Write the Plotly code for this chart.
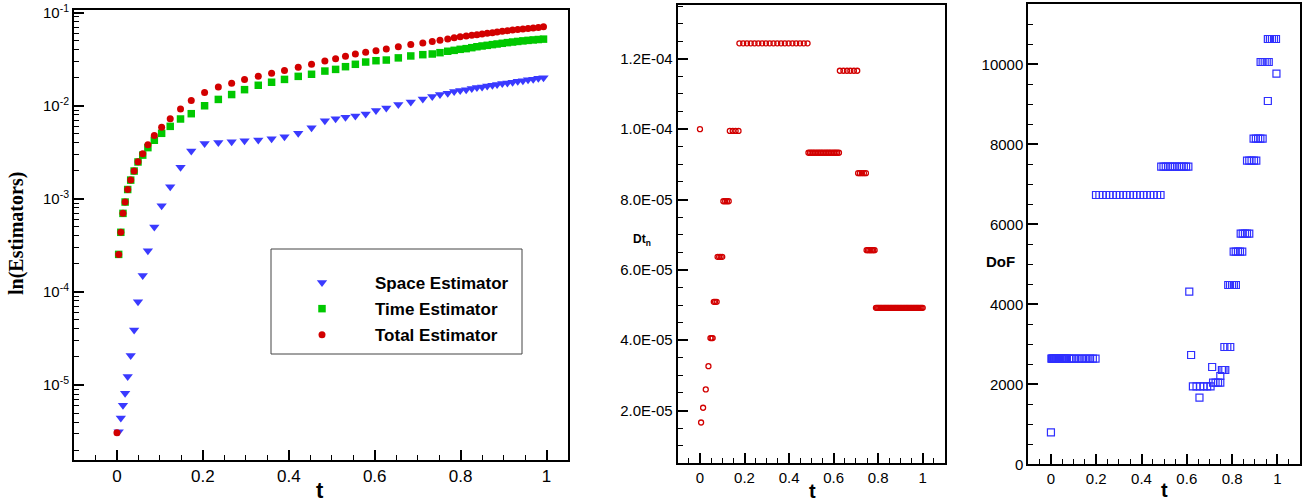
import plotly.graph_objects as go

W, H = 1303, 504

# ---------------- Left panel: estimators (log scale) ----------------
est_t = [0, 0.004, 0.009, 0.014, 0.019, 0.025, 0.032, 0.040, 0.049, 0.060,
         0.072, 0.087, 0.104, 0.124, 0.148, 0.173, 0.204, 0.236, 0.267, 0.297,
         0.329, 0.360, 0.390, 0.422, 0.453, 0.484, 0.509, 0.532, 0.555, 0.579,
         0.603, 0.627, 0.655, 0.684, 0.712, 0.734, 0.752, 0.770, 0.785, 0.799,
         0.813, 0.826, 0.838, 0.850, 0.862, 0.874, 0.885, 0.897, 0.909, 0.921,
         0.933, 0.945, 0.957, 0.969, 0.981, 0.993]

total_est = [3.07e-6, 2.53e-4, 4.37e-4, 6.98e-4, 9.24e-4, 1.26e-3, 1.59e-3, 1.99e-3, 2.51e-3, 3.06e-3,
             3.82e-3, 4.78e-3, 5.86e-3, 7.26e-3, 9.22e-3, 1.14e-2, 1.39e-2, 1.59e-2, 1.75e-2, 1.92e-2,
             2.07e-2, 2.23e-2, 2.40e-2, 2.59e-2, 2.79e-2, 3.03e-2, 3.21e-2, 3.40e-2, 3.60e-2, 3.75e-2,
             3.90e-2, 4.07e-2, 4.31e-2, 4.54e-2, 4.73e-2, 4.89e-2, 5.05e-2, 5.21e-2, 5.39e-2, 5.53e-2,
             5.62e-2, 5.71e-2, 5.81e-2, 5.90e-2, 6.00e-2, 6.10e-2, 6.20e-2, 6.31e-2, 6.41e-2, 6.50e-2,
             6.59e-2, 6.68e-2, 6.77e-2, 6.86e-2, 6.95e-2, 7.05e-2]

time_est = [None, 2.53e-4, 4.37e-4, 6.98e-4, 9.24e-4, 1.26e-3, 1.59e-3, 1.99e-3, 2.49e-3, 2.95e-3,
            3.55e-3, 4.26e-3, 5.06e-3, 6.01e-3, 7.21e-3, 8.22e-3, 1.00e-2, 1.17e-2, 1.32e-2, 1.49e-2,
            1.66e-2, 1.79e-2, 1.92e-2, 2.07e-2, 2.18e-2, 2.36e-2, 2.46e-2, 2.63e-2, 2.79e-2, 2.95e-2,
            3.05e-2, 3.10e-2, 3.27e-2, 3.43e-2, 3.54e-2, 3.60e-2, 3.72e-2, 3.85e-2, 3.94e-2, 4.04e-2,
            4.11e-2, 4.21e-2, 4.31e-2, 4.39e-2, 4.46e-2, 4.54e-2, 4.61e-2, 4.69e-2, 4.77e-2, 4.84e-2,
            4.91e-2, 4.98e-2, 5.04e-2, 5.10e-2, 5.15e-2, 5.20e-2]

space_est = [None, 3.15e-6, 4.42e-6, 6.04e-6, 8.13e-6, 1.23e-5, 2.08e-5, 3.90e-5, 7.86e-5, 1.50e-4,
             2.77e-4, 4.98e-4, 8.45e-4, 1.35e-3, 2.18e-3, 3.26e-3, 3.94e-3, 4.04e-3, 4.11e-3, 4.22e-3,
             4.28e-3, 4.43e-3, 4.65e-3, 5.06e-3, 5.82e-3, 6.92e-3, 7.27e-3, 7.51e-3, 7.77e-3, 8.15e-3,
             8.90e-3, 9.46e-3, 1.03e-2, 1.10e-2, 1.18e-2, 1.26e-2, 1.32e-2, 1.36e-2, 1.42e-2, 1.46e-2,
             1.49e-2, 1.53e-2, 1.57e-2, 1.59e-2, 1.63e-2, 1.66e-2, 1.69e-2, 1.73e-2, 1.76e-2, 1.79e-2,
             1.83e-2, 1.86e-2, 1.90e-2, 1.93e-2, 1.97e-2, 2.00e-2]

log_tickvals = [1e-5, 1e-4, 1e-3, 1e-2, 1e-1]
log_ticktext = ["10<sup>-5</sup>", "10<sup>-4</sup>", "10<sup>-3</sup>", "10<sup>-2</sup>", "10<sup>-1</sup>"]

# ---------------- Middle panel: time step Dt_n ----------------
dt_levels = [1.0e-4, 1.66e-5, 2.08e-5, 2.60e-5, 3.26e-5, 4.06e-5, 5.09e-5, 6.37e-5, 7.95e-5, 9.95e-5,
             1.244e-4, 9.33e-5, 1.166e-4, 8.75e-5, 6.56e-5, 4.92e-5]
dt_times = [
    [0.0],
    [0.005],
    [0.014],
    [0.026],
    [0.038],
    [0.047, 0.052, 0.057],
    [0.062, 0.068, 0.075],
    [0.079, 0.086, 0.093, 0.100],
    [0.105, 0.113, 0.121, 0.129],
    [0.134, 0.147, 0.160, 0.173],
    [0.177, 0.194, 0.211, 0.228, 0.245, 0.262, 0.279, 0.296, 0.313, 0.330,
     0.347, 0.364, 0.381, 0.398, 0.415, 0.432, 0.449, 0.466, 0.483],
    [0.487, 0.494, 0.501, 0.508, 0.515, 0.523, 0.530, 0.537, 0.544, 0.551,
     0.559, 0.566, 0.573, 0.580, 0.587, 0.595, 0.602, 0.609, 0.616, 0.624],
    [0.628, 0.644, 0.660, 0.675, 0.691, 0.706],
    [0.710, 0.718, 0.727, 0.736, 0.745],
    [0.748, 0.754, 0.760, 0.766, 0.772, 0.778, 0.784],
    [0.790, 0.795, 0.800, 0.805, 0.810, 0.815, 0.820, 0.825, 0.830, 0.835,
     0.840, 0.845, 0.850, 0.855, 0.860, 0.865, 0.870, 0.875, 0.880, 0.885,
     0.890, 0.895, 0.900, 0.905, 0.910, 0.915, 0.920, 0.925, 0.930, 0.935,
     0.940, 0.945, 0.950, 0.955, 0.960, 0.965, 0.970, 0.975, 0.980, 0.985,
     0.990, 0.995, 1.000],
]
dt_tickvals = [2e-5, 4e-5, 6e-5, 8e-5, 1e-4, 1.2e-4]
dt_ticktext = ["2.0E-05", "4.0E-05", "6.0E-05", "8.0E-05", "1.0E-04", "1.2E-04"]

# ---------------- Right panel: degrees of freedom ----------------
dof_levels = [800, 2640, 6733, 7442, 4317, 2733, 1950, 1665, 2433, 2040, 2208, 2358, 2933,
              4483, 5317, 5767, 7592, 8142, 9083, 10058, 10633, 9767]
dof_times = [
    [0.0],
    [0.002, 0.005, 0.008, 0.011, 0.014, 0.017, 0.020, 0.023, 0.026, 0.030,
     0.034, 0.038, 0.042, 0.046, 0.050, 0.054, 0.058, 0.062, 0.066, 0.070,
     0.080, 0.090, 0.101, 0.113, 0.125, 0.137, 0.149, 0.161, 0.173, 0.185, 0.197],
    [0.199, 0.214, 0.229, 0.244, 0.259, 0.274, 0.289, 0.304, 0.319, 0.334,
     0.349, 0.364, 0.379, 0.394, 0.409, 0.424, 0.439, 0.454, 0.469, 0.484],
    [0.487, 0.497, 0.507, 0.517, 0.527, 0.537, 0.547, 0.557, 0.567, 0.577, 0.587, 0.597, 0.607],
    [0.611],
    [0.619],
    [0.627, 0.643, 0.659, 0.674, 0.690, 0.705],
    [0.656],
    [0.712],
    [0.716, 0.727, 0.738, 0.748],
    [0.748],
    [0.755, 0.762, 0.770],
    [0.766, 0.779, 0.792],
    [0.783, 0.791, 0.800, 0.808, 0.817],
    [0.807, 0.816, 0.826, 0.835, 0.845],
    [0.838, 0.847, 0.857, 0.866, 0.876],
    [0.866, 0.876, 0.886, 0.897, 0.907],
    [0.895, 0.905, 0.915, 0.925, 0.935],
    [0.958],
    [0.926, 0.935, 0.944, 0.953, 0.962],
    [0.958, 0.967, 0.976, 0.985, 0.994],
    [0.996],
]

t_tickvals = [0, 0.2, 0.4, 0.6, 0.8, 1]
t_ticktext = ["0", "0.2", "0.4", "0.6", "0.8", "1"]
dof_tickvals = [0, 2000, 4000, 6000, 8000, 10000]
dof_ticktext = ["0", "2000", "4000", "6000", "8000", "10000"]

# flatten segment data
mid_t, mid_v = [], []
for lev, ts in zip(dt_levels, dt_times):
    mid_t += ts
    mid_v += [lev] * len(ts)
dof_t, dof_v = [], []
for lev, ts in zip(dof_levels, dof_times):
    dof_t += ts
    dof_v += [lev] * len(ts)

RED = "#d20000"
GREEN = "#00c800"
BLUE = "#3a3aff"
FONT = "Liberation Sans, Arial, Helvetica, sans-serif"

fig = go.Figure()
fig.add_trace(go.Scatter(x=est_t, y=space_est, mode="markers", name="<b>Space Estimator</b>",
                         marker=dict(symbol="triangle-down", size=9, color=BLUE),
                         xaxis="x", yaxis="y", legendgroup="a"))
fig.add_trace(go.Scatter(x=est_t, y=time_est, mode="markers", name="<b>Time Estimator</b>",
                         marker=dict(symbol="square", size=7.5, color=GREEN),
                         xaxis="x", yaxis="y", legendgroup="b"))
fig.add_trace(go.Scatter(x=est_t, y=total_est, mode="markers", name="<b>Total Estimator</b>",
                         marker=dict(symbol="circle", size=7, color=RED),
                         xaxis="x", yaxis="y", legendgroup="c"))
fig.add_trace(go.Scatter(x=mid_t, y=mid_v, mode="markers", showlegend=False,
                         marker=dict(symbol="circle-open", size=5, color=RED, line=dict(width=1.3, color=RED)),
                         xaxis="x2", yaxis="y2"))
fig.add_trace(go.Scatter(x=dof_t, y=dof_v, mode="markers", showlegend=False,
                         marker=dict(symbol="square-open", size=7, color="#2f2fff", line=dict(width=1.2, color="#2f2fff")),
                         xaxis="x3", yaxis="y3"))


def px_x(p):
    return p / W


def px_y(p):
    return 1 - p / H


axis_common = dict(showline=True, linewidth=2, linecolor="black", mirror=True, showgrid=False,
                   zeroline=False, ticks="inside", tickwidth=2, ticklen=10, tickcolor="black",
                   automargin=False, tickfont=dict(family=FONT, size=15, color="black"))

xmin = dict(ticks="inside", ticklen=5, tickwidth=1, tickcolor="black", dtick=0.05, tick0=0, showgrid=False)

fig.update_layout(
    width=W, height=H, margin=dict(l=0, r=0, t=0, b=0),
    paper_bgcolor="white", plot_bgcolor="white",
    font=dict(family=FONT, color="black"),
    xaxis=dict(axis_common, domain=[px_x(74), px_x(568)], range=[-0.1, 1.05],
               tickmode="array", tickvals=t_tickvals, ticktext=t_ticktext, anchor="y",
               tickfont=dict(family=FONT, size=17, color="black"), minor=xmin),
    yaxis=dict(axis_common, domain=[px_y(460), px_y(10)], type="log", range=[-5.806, -0.971],
               tickmode="array", tickvals=log_tickvals, ticktext=log_ticktext, anchor="x",
               minor=dict(ticks="inside", ticklen=5, tickwidth=1, tickcolor="black", dtick="D1", showgrid=False)),
    xaxis2=dict(axis_common, domain=[px_x(677.7), px_x(945)], range=[-0.1, 1.1],
                tickmode="array", tickvals=t_tickvals, ticktext=t_ticktext, anchor="y2", minor=xmin),
    yaxis2=dict(axis_common, domain=[px_y(463.3), px_y(5)], range=[5e-6, 1.353e-4],
                tickmode="array", tickvals=dt_tickvals, ticktext=dt_ticktext, anchor="x2",
                minor=dict(ticks="inside", ticklen=5, tickwidth=1, tickcolor="black", dtick=5e-6, tick0=0, showgrid=False)),
    xaxis3=dict(axis_common, domain=[px_x(1028.3), px_x(1300)], range=[-0.1, 1.1],
                tickmode="array", tickvals=t_tickvals, ticktext=t_ticktext, anchor="y3", minor=xmin),
    yaxis3=dict(axis_common, domain=[px_y(464.3), px_y(4.3)], range=[0, 11500],
                tickmode="array", tickvals=dof_tickvals, ticktext=dof_ticktext, anchor="x3",
                minor=dict(ticks="inside", ticklen=5, tickwidth=1, tickcolor="black", dtick=500, tick0=0, showgrid=False)),
    legend=dict(x=px_x(269), y=px_y(265), xanchor="left", yanchor="top",
                bgcolor="rgba(0,0,0,0)", borderwidth=0,
                font=dict(family=FONT, size=17, color="black"),
                itemwidth=96, traceorder="grouped", tracegroupgap=1),
    showlegend=True,
)

# legend frame
fig.add_shape(type="rect", xref="paper", yref="paper",
              x0=px_x(271), x1=px_x(522), y0=px_y(354), y1=px_y(249),
              line=dict(color="#444444", width=1), fillcolor="rgba(0,0,0,0)")

ann = [
    dict(text="<b>t</b>", x=px_x(320), y=px_y(490), font=dict(size=22)),
    dict(text="<b>t</b>", x=px_x(812), y=px_y(491), font=dict(size=20)),
    dict(text="<b>t</b>", x=px_x(1164), y=px_y(490), font=dict(size=20)),
    dict(text="<b>ln(Estimators)</b>", x=px_x(16), y=px_y(234), textangle=-90,
         font=dict(size=20, family="Liberation Serif, Times New Roman, serif")),
    dict(text="<b>Dt<sub>n</sub></b>", x=px_x(642), y=px_y(240), font=dict(size=12)),
    dict(text="<b>DoF</b>", x=px_x(1001), y=px_y(261), font=dict(size=15)),
]
for a in ann:
    fig.add_annotation(xref="paper", yref="paper", showarrow=False, xanchor="center", yanchor="middle",
                       **{k: v for k, v in a.items() if k != "font"},
                       font=dict(family=a["font"].get("family", FONT), size=a["font"]["size"], color="black"))

fig.write_html("out.html", config={"displayModeBar": False},
               post_script="document.body.style.margin='0px';document.body.style.overflow='hidden';")
